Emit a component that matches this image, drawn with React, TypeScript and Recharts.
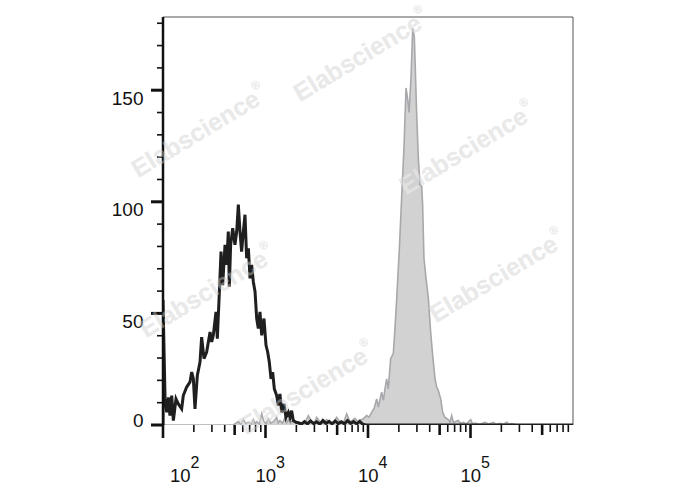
import React from 'react';
import { ComposedChart, Area, Line, XAxis, YAxis, ReferenceLine } from 'recharts';

// Isotype control (black outline) — x in log10 fluorescence units, y = count
const isotypeLog = [
  2.0, 2.0, 2.02, 2.036, 2.052, 2.068, 2.085, 2.101, 2.127, 2.15, 2.182, 2.198, 2.231, 2.263,
  2.28, 2.296, 2.312, 2.335, 2.361, 2.377, 2.4, 2.426, 2.459, 2.475, 2.491, 2.517, 2.53, 2.55,
  2.566, 2.582, 2.605, 2.621, 2.637, 2.647, 2.66, 2.68, 2.702, 2.719, 2.735, 2.751, 2.767, 2.784,
  2.8, 2.816, 2.833, 2.849, 2.865, 2.881, 2.898, 2.914, 2.93, 2.946, 2.963, 2.985, 3.005, 3.021,
  3.037, 3.054, 3.07, 3.086, 3.109, 3.125, 3.141, 3.158, 3.18, 3.2, 3.223, 3.239, 3.255, 3.271,
  3.298, 3.32, 3.35, 3.38, 3.41, 3.44, 3.47, 3.5, 3.53, 3.56, 3.59, 3.62, 3.65, 3.68, 3.71, 3.74,
  3.77, 3.8, 3.83, 3.86, 3.89, 3.92, 3.95, 3.98, 6.0,
];
const isotypeCount = [
  0, 56, 11.7, 5.7, 12.4, 4.2, 13.2, 2, 11.7, 9.4, 7.2, 13.2, 17, 19.2,
  23.7, 20.7, 7.2, 22.2, 28.2, 39.4, 29.7, 32.7, 41.7, 37.2, 40.2, 50.7, 38.7, 59.7,
  77.7, 62.7, 80.7, 71.7, 86.7, 62, 80.7, 88.2, 80.7, 86.7, 98.7, 86.7, 77.7, 86.7,
  94.2, 74.7, 79.2, 65.7, 71.7, 64.2, 59.7, 47.7, 43.2, 50.7, 40.2, 47.7, 35.7, 32.7,
  28.2, 20.7, 23.7, 16.2, 13.2, 8.7, 13.9, 5.7, 9.4, 3.4, 5.7, 3.4, 6.4, 2,
  1.2, 1, 0.4, 1.5, 0.5, 1.8, 0.6, 1.4, 0.4, 2, 0.7, 1.6, 0.5, 1.8, 0.6, 1.4,
  0.5, 2, 0.7, 1.5, 0.5, 1.6, 0.3, 0, 0,
];

// Stained sample (grey filled)
const stainedLog = [
  2.0, 2.686, 2.735, 2.76, 2.784, 2.81, 2.833, 2.86, 2.881, 2.9, 2.914, 2.94, 2.963, 2.985,
  3.005, 3.028, 3.05, 3.076, 3.109, 3.125, 3.141, 3.165, 3.19, 3.205, 3.223, 3.245, 3.271, 3.3,
  3.337, 3.38, 3.418, 3.45, 3.475, 3.499, 3.532, 3.56, 3.597, 3.629, 3.66, 3.694, 3.727, 3.76,
  3.792, 3.824, 3.85, 3.873, 3.9, 3.922, 3.95, 3.987, 4.01, 4.036, 4.06, 4.085, 4.101, 4.12,
  4.133, 4.15, 4.165, 4.182, 4.198, 4.221, 4.247, 4.263, 4.28, 4.306, 4.328, 4.351, 4.371, 4.387,
  4.401, 4.42, 4.436, 4.452, 4.475, 4.491, 4.507, 4.524, 4.533, 4.546, 4.566, 4.589, 4.611, 4.631,
  4.654, 4.67, 4.686, 4.709, 4.729, 4.751, 4.784, 4.8, 4.816, 4.835, 4.849, 4.881, 4.9, 4.93,
  4.96, 5.002, 5.02, 5.044, 5.09, 5.141, 5.18, 5.223, 5.25, 5.288, 5.32, 5.353, 5.38, 5.402,
  5.44, 5.483, 6.0,
];
const stainedCount = [
  0, 0, 1.5, 0.3, 2.4, 0.5, 1.2, 0.4, 2.4, 0.6, 1.5, 0.5, 5, 1.5,
  0.6, 2.7, 0.8, 1.5, 3.4, 0.9, 2, 0.8, 3.4, 1, 2.4, 0.8, 2.4, 0.8,
  1.2, 0.6, 4.2, 1.5, 0.7, 3.4, 1.5, 0.8, 2.4, 1.2, 0.8, 3.4, 1.5, 1,
  5, 1.5, 2.2, 3, 1.6, 2.4, 2.6, 4.2, 3.5, 5.7, 7.5, 11.7, 8, 12,
  14.7, 11, 16, 20.7, 16.2, 29.7, 32, 43.2, 56.7, 79, 101.6, 124, 151, 146,
  140, 156, 177.8, 174, 139, 119.6, 107.6, 107, 98.6, 74.7, 65.7, 56.7, 41.7, 31.2,
  20.7, 17, 15.4, 11.7, 5.7, 3.4, 2.4, 1.2, 4.2, 1, 1.5, 2, 0.8, 1.2,
  0.5, 2.4, 0.5, 0.9, 0.3, 1.2, 0.4, 1.2, 0.3, 0.8, 0.3, 1.2, 0.3, 0.6,
  0.2, 0, 0,
];

const yTicks = [0, 10, 20, 30, 40, 50, 60, 70, 80, 90, 100, 110, 120, 130, 140, 150, 160, 170, 180];
const yLabelStep = 50;
const decades = [2, 3, 4, 5];
const decadeLabels = ['2', '3', '4', '5'];
const minorMultipliers = [2, 3, 4, 5, 6, 7, 8, 9];
const X_MIN = 2;
const X_MAX = 6;
const Y_MAX = 182.8;

const isotypeData = isotypeLog.map((x, i) => ({ x, count: isotypeCount[i] }));
const stainedData = stainedLog.map((x, i) => ({ x, count: stainedCount[i] }));
const xTicks = decades.flatMap((d) => [d, ...minorMultipliers.map((m) => d + Math.log10(m))]);

const FONT = '"Liberation Sans", Arial, Helvetica, sans-serif';

const WATERMARKS = [
  { cx: 361, cy: 55 },
  { cx: 199, cy: 131 },
  { cx: 467, cy: 148 },
  { cx: 207, cy: 291 },
  { cx: 497, cy: 276 },
  { cx: 307, cy: 388 },
];

function Watermarks({ fill, opacity }: { fill: string; opacity: number }) {
  return (
    <g>
      {WATERMARKS.map((w, i) => (
        <text
          key={i}
          x={w.cx}
          y={w.cy}
          textAnchor="middle"
          dominantBaseline="central"
          fontFamily={FONT}
          fontWeight="bold"
          fontSize={25}
          fill={fill}
          fillOpacity={opacity}
          transform={`rotate(-31 ${w.cx} ${w.cy})`}
        >
          Elabscience
          <tspan fontSize={12} dy={-10}>®</tspan>
        </text>
      ))}
    </g>
  );
}

function XTick(props: any) {
  const { x, y, payload } = props;
  const v = payload.value as number;
  const base = Math.floor(v + 1e-9);
  const frac = v - base;
  const major = Math.abs(frac) < 1e-6;
  const mult = Math.round(Math.pow(10, frac));
  const len = major ? 13 : mult === 5 ? 10 : 7;
  const sw = major || mult === 5 ? 2.6 : 1.6;
  const idx = decades.indexOf(base);
  return (
    <g>
      <line x1={x} x2={x} y1={y} y2={y + len} stroke="#111" strokeWidth={sw} />
      {major && idx >= 0 && (
        <text x={x + (idx === 0 ? 7 : -10)} y={y + 57} fontSize={18.5} fontFamily={FONT} fill="#111">
          10
          <tspan dy={-14} fontSize={16}>
            {decadeLabels[idx]}
          </tspan>
        </text>
      )}
    </g>
  );
}

function YTick(props: any) {
  const { x, y, payload } = props;
  const v = payload.value as number;
  const major = v % yLabelStep === 0;
  return (
    <g>
      <line x1={x - (major ? 12 : 6)} x2={x} y1={y} y2={y} stroke="#111" strokeWidth={major ? 3 : 1.6} />
      {major && (
        <text
          x={x - 19.5}
          y={v === 0 ? y + 1.5 : y + 14.6}
          textAnchor="end"
          fontSize={19}
          fontFamily={FONT}
          fill="#111"
        >
          {v}
        </text>
      )}
    </g>
  );
}

export default function App() {
  return (
    <div style={{ position: 'absolute', left: 0, top: 0, width: 688, height: 490, background: '#fff' }}>
      <svg width={688} height={490} style={{ position: 'absolute', left: 0, top: 0 }}>
        <Watermarks fill="#dedede" opacity={1} />
      </svg>
      <div style={{ position: 'absolute', left: 0, top: 0 }}>
        <ComposedChart width={688} height={490} margin={{ top: 17, right: 115, bottom: 0, left: 0 }}>
          <XAxis
            type="number"
            dataKey="x"
            domain={[X_MIN, X_MAX]}
            allowDataOverflow
            ticks={xTicks}
            interval={0}
            tick={(p: any) => <XTick {...p} />}
            tickLine={false}
            axisLine={false}
            tickSize={0}
            tickMargin={0}
            height={65}
          />
          <YAxis
            type="number"
            domain={[0, Y_MAX]}
            allowDataOverflow
            ticks={yTicks}
            interval={0}
            tick={(p: any) => <YTick {...p} />}
            tickLine={false}
            axisLine={{ stroke: '#111', strokeWidth: 2.5 }}
            tickSize={0}
            tickMargin={0}
            width={163}
          />
          <ReferenceLine y={Y_MAX} stroke="#555" strokeWidth={1} />
          <ReferenceLine x={X_MAX} stroke="#555" strokeWidth={1} />
          <Area
            data={stainedData}
            type="linear"
            dataKey="count"
            stroke="#a8a8ac"
            strokeWidth={1.6}
            fill="#d2d2d2"
            fillOpacity={1}
            dot={false}
            activeDot={false}
            isAnimationActive={false}
          />
          <Line
            data={isotypeData}
            type="linear"
            dataKey="count"
            stroke="#1f1f1f"
            strokeWidth={3}
            dot={false}
            activeDot={false}
            isAnimationActive={false}
          />
        </ComposedChart>
      </div>
      <svg width={688} height={490} style={{ position: 'absolute', left: 0, top: 0, pointerEvents: 'none' }}>
        <Watermarks fill="#ffffff" opacity={0.35} />
      </svg>
    </div>
  );
}
